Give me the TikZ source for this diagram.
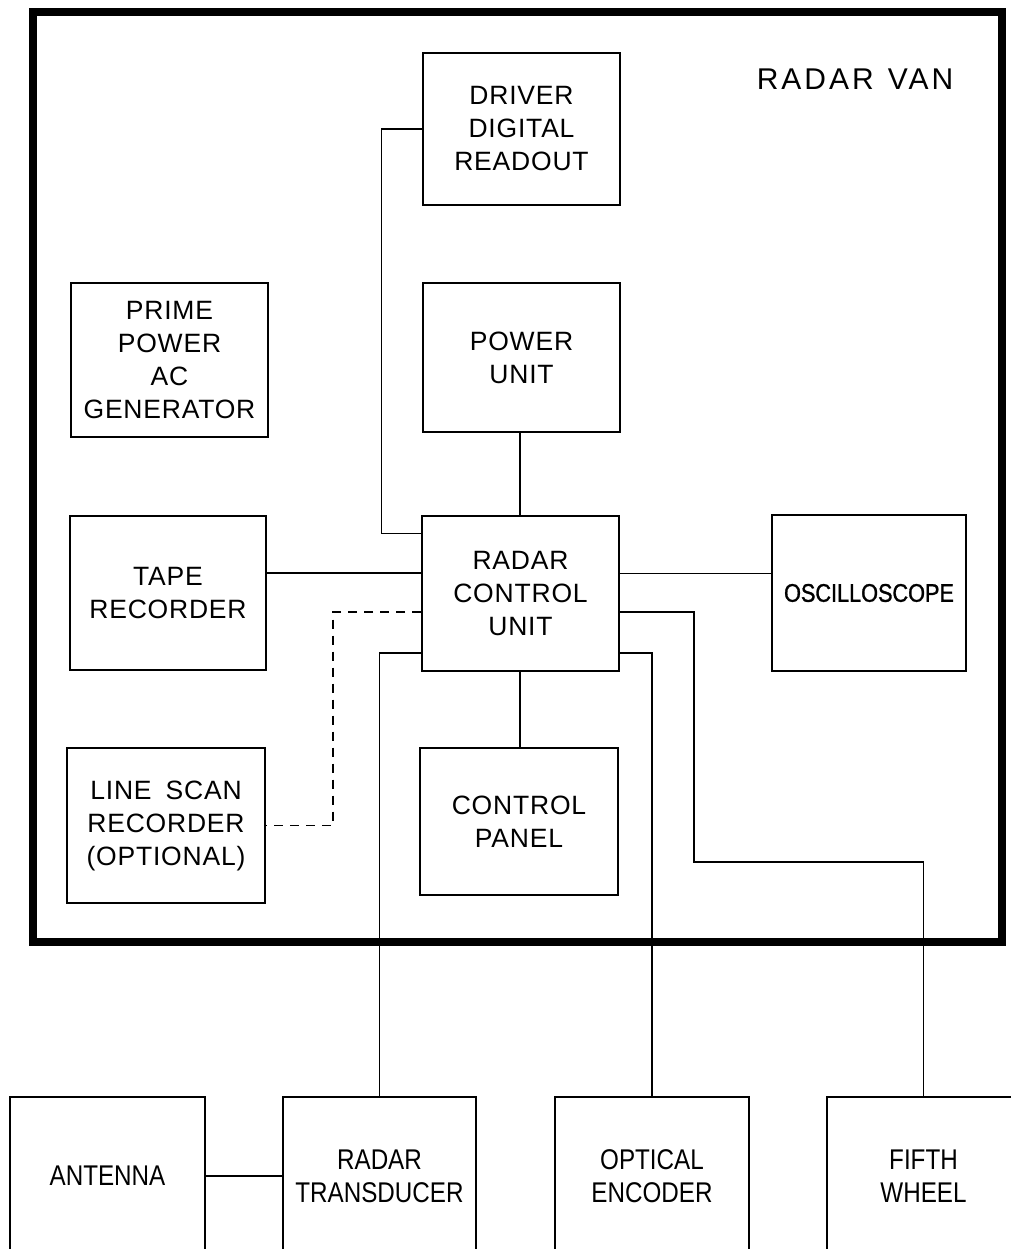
\documentclass[tikz,border=0pt]{standalone}
\usepackage{fontspec}
\newfontfamily\lbl{Liberation Sans}[LetterSpace=3]
\newfontfamily\lblw{Liberation Sans}[LetterSpace=10]
\newfontfamily\lblc{Liberation Sans}[FakeStretch=0.85]
\newfontfamily\lblo{Liberation Sans}[FakeStretch=0.85,FakeBold=1.2]
\begin{document}
\begin{tikzpicture}[x=1pt,y=-1pt,
  box/.style={draw, line width=1.6pt, inner sep=0pt, align=center,
    font=\lbl\fontsize{26.5}{33}\selectfont},
  lowbox/.style={box, font=\lblc\fontsize{28.5}{33}\selectfont},
  wire/.style={line width=1.4pt},
  dwire/.style={line width=1.4pt, dash pattern=on 9pt off 7pt}]
\useasboundingbox (0,0) rectangle (1010,1249);
\fill[white] (0,0) rectangle (1010,1249);
% radar van frame
\node[draw, line width=8pt, inner sep=0pt, minimum width=968.5pt, minimum height=929.5pt] (van) at (517.25,477.25) {};
\node[font=\lblw\fontsize{30}{36}\selectfont, inner sep=0pt] (vanlbl) at (855,79) {RADAR\hspace{14pt}VAN};
% boxes
\node[box, minimum width=197pt, minimum height=152pt] (drv) at (521.5,129) {DRIVER\\DIGITAL\\READOUT};
\node[box, minimum width=197pt, minimum height=149pt] (pwr) at (521.5,357.5) {POWER\\UNIT};
\node[box, minimum width=197pt, minimum height=154pt] (prime) at (169.5,360) {PRIME\\POWER\\AC\\GENERATOR};
\node[box, minimum width=196pt, minimum height=154pt] (tape) at (168,593) {TAPE\\RECORDER};
\node[box, minimum width=197pt, minimum height=155pt] (rcu) at (520.5,593.5) {RADAR\\CONTROL\\UNIT};
\node[box, minimum width=194pt, minimum height=156pt, font=\lblo\fontsize{25.5}{30}\selectfont] (osc) at (869,593) {OSCILLOSCOPE};
\node[box, minimum width=198pt, minimum height=155pt] (lsr) at (166,825.5) {LINE\hspace{14pt}SCAN\\RECORDER\\(OPTIONAL)};
\node[box, minimum width=198pt, minimum height=147pt] (cp) at (519,821.5) {CONTROL\\PANEL};
\node[lowbox, minimum width=195pt, minimum height=158pt] (ant) at (107.5,1176) {ANTENNA};
\node[lowbox, minimum width=193pt, minimum height=158pt] (trans) at (379.5,1176) {RADAR\\TRANSDUCER};
\node[lowbox, minimum width=194pt, minimum height=158pt] (opt) at (652,1176) {OPTICAL\\ENCODER};
\node[lowbox, minimum width=193pt, minimum height=158pt] (fifth) at (923.5,1176) {FIFTH\\WHEEL};
% bend points
\coordinate (b1) at (694,862);
% connectors
\draw[wire] (drv.west) -| ([xshift=-40pt,yshift=-18pt]rcu.north west) -- ([yshift=-18pt]rcu.north west);
\draw[wire] (pwr.south -| 520,0) -- (rcu.north -| 520,0);
\draw[wire] ([yshift=20pt]tape.east) -- ([yshift=20pt]tape.east -| rcu.west);
\draw[wire] ([yshift=20pt]rcu.east) -- ([yshift=20pt]rcu.east -| osc.west);
\draw[dwire] ([yshift=-18.5pt]rcu.west) -| ([xshift=67pt]lsr.east) -- (lsr.east);
\draw[wire] ([yshift=19pt]rcu.south west) -| (trans.north);
\draw[wire] ([yshift=19pt]rcu.south east) -| (opt.north);
\draw[wire] ([yshift=-18.5pt]rcu.east) -| (b1) -| (fifth.north);
\draw[wire] (rcu.south -| 520,0) -- (cp.north -| 520,0);
\draw[wire] (ant.east) -- (ant.east -| trans.west);
\end{tikzpicture}
\end{document}
